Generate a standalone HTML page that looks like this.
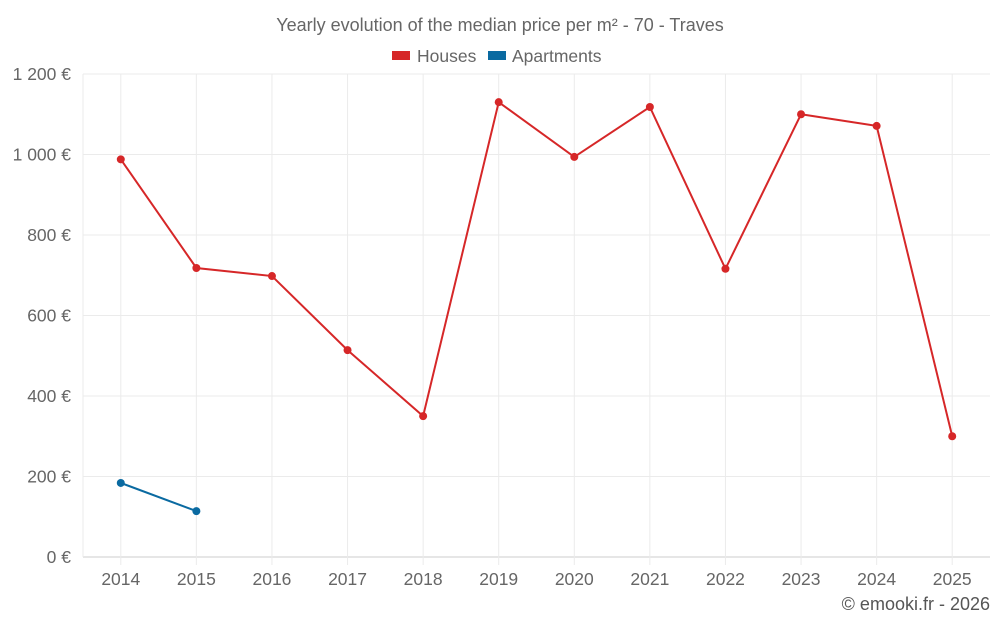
<!DOCTYPE html>
<html><head><meta charset="utf-8"><style>
body{margin:0;background:#fff;font-family:"Liberation Sans",sans-serif;}
svg text{font-family:"Liberation Sans",sans-serif;}
</style></head><body>
<svg id="chart" width="1000" height="625" viewBox="0 0 1000 625">
<text x="500" y="31" text-anchor="middle" font-size="18" fill="#666">Yearly evolution of the median price per m² - 70 - Traves</text>
<g>
<g><rect x="392" y="51" width="18" height="9" fill="#d62728"/><text x="417" y="62" font-size="17.5" fill="#666">Houses</text></g>
<g><rect x="488" y="51" width="18" height="9" fill="#0a6aa1"/><text x="512" y="62" font-size="17.5" fill="#666">Apartments</text></g>
</g>
<g id="grid"></g><g id="axes"></g><g id="series"></g>
<text x="990" y="610" text-anchor="end" font-size="18" fill="#555">© emooki.fr - 2026</text>
</svg>
<script>
const years=["2014","2015","2016","2017","2018","2019","2020","2021","2022","2023","2024","2025"];
const houses=[988,718,698,514,350,1130,994,1118,716,1100,1071,300];
const apartments=[184,114,null,null,null,null,null,null,null,null,null,null];
const yTicks=[0,200,400,600,800,1000,1200];
const yTickLabels=["0 €","200 €","400 €","600 €","800 €","1 000 €","1 200 €"];
const L=83,R=990,T=74,B=557,ymax=1200;
const step=(R-L)/years.length;
const x=i=>L+step*(i+0.5);
const y=v=>B-(v/ymax)*(B-T);
const NS="http://www.w3.org/2000/svg";
function mk(tag,attrs,parent){const e=document.createElementNS(NS,tag);for(const k in attrs)e.setAttribute(k,attrs[k]);document.getElementById(parent).appendChild(e);return e;}
yTicks.forEach((t,i)=>{
 const g=mk('line',{x1:L,x2:R,y1:y(t),y2:y(t),stroke:t===0?'#ccc':'#ebebeb','stroke-width':1},'grid');
 
 
 const tx=mk('text',{x:71,y:y(t)+6,'text-anchor':'end','font-size':17.5,fill:'#666'},'axes');
 tx.textContent=yTickLabels[i];
 
 
});
mk('line',{x1:L,x2:L,y1:T,y2:B,stroke:'#ebebeb'},'grid');
years.forEach((yr,i)=>{
 const g=mk('line',{x1:x(i),x2:x(i),y1:T,y2:B+8,stroke:'#ebebeb'},'grid');
 
 
 const tx=mk('text',{x:x(i),y:585,'text-anchor':'middle','font-size':17.5,fill:'#666'},'axes');
 tx.textContent=yr;
 
 
});
function draw(vals,color,name){
 let d='';vals.forEach((v,i)=>{if(v==null)return;d+=(d?'L':'M')+x(i)+' '+y(v);});
 const p=mk('path',{d:d,fill:'none',stroke:color,'stroke-width':2},'series');
 
 
 vals.forEach((v,i)=>{if(v==null)return;
  const c=mk('circle',{cx:x(i),cy:y(v),r:4,fill:color},'series');
  
  
 });
}
draw(houses,'#d62728','houses');
draw(apartments,'#0a6aa1','apartments');
</script>
</body></html>
